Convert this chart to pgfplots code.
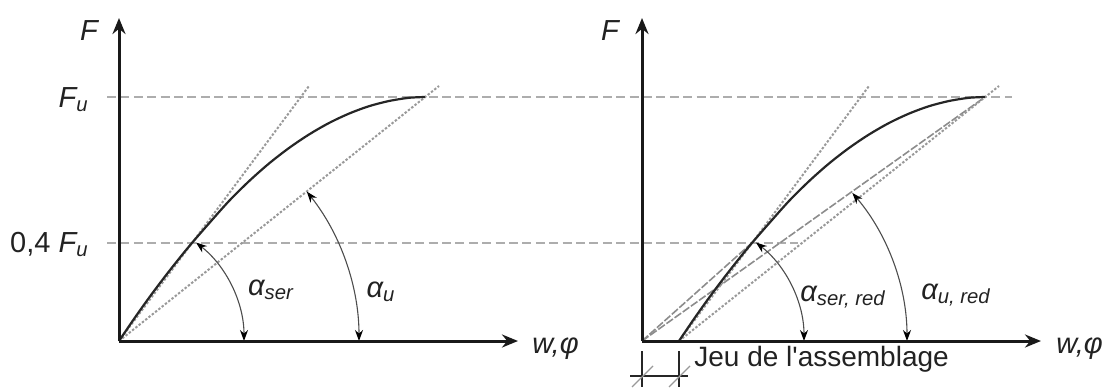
\documentclass[border=0pt]{standalone}
\usepackage{fontspec}
\setmainfont{Liberation Sans}
\usepackage{pgfplots}
\pgfplotsset{compat=1.18}
\usetikzlibrary{arrows.meta}

\definecolor{refline}{HTML}{ADADAD}
\definecolor{dotline}{HTML}{999999}
\definecolor{dashline}{HTML}{8C8C8C}
\definecolor{arcline}{HTML}{4D4D4D}
\definecolor{txt}{HTML}{222222}

\pgfplotstableread{
x y
0 0
15 22.1
30 43.2
45 63.2
60 82.3
73 98.1
90 117.6
110 140
130 159.8
150 177.5
170 193
190 206.5
210 218
230 227.4
250 234.8
270 240
290 243.2
306 244
}\leftcurve

\pgfplotstableread{
x y
37 0
52 22.1
67 43.2
82 63.2
97 82.3
110 98.1
127 117.6
147 140
167 159.8
187 177.5
207 193
227 206.5
247 218
267 227.4
287 234.8
307 240
327 243.2
343 244
}\rightcurve

\pgfplotsset{
  panel/.style={
    x=0.5pt, y=0.5pt,
    xmin=0, xmax=399, ymin=0, ymax=323,
    axis lines=left,
    axis line style={line width=1.5pt, draw=black!90, -{Stealth[length=8pt,width=6.5pt]}},
    xtick=\empty, ytick=\empty,
    clip=false,
    axis on top,
    anchor=south west,
  },
}
\tikzset{
  lbl/.style={font=\fontsize{14.5}{16}\selectfont\itshape, text=txt, inner sep=0pt},
  arcarrow/.style={draw=arcline, line width=0.55pt, {Stealth[length=5.5pt,width=4pt,black]}-{Stealth[length=5.5pt,width=4pt,black]}},
  dotsty/.style={dotline, line width=1pt, dash pattern=on 1.2pt off 0.9pt},
  refsty/.style={refline, line width=1.4pt, dash pattern=on 4.5pt off 2.2pt},
}

\begin{document}
\begin{tikzpicture}
\useasboundingbox (-59.5pt,-23pt) rectangle (491.5pt,170.5pt);

% ---------- left panel ----------
\begin{axis}[panel, at={(0pt,0pt)}]
  % horizontal reference lines (run across both panels)
  \addplot[refsty] coordinates {(-12,244) (893,244)};
  \addplot[refsty] coordinates {(-12,98) (679,98)};
  % secant lines
  \addplot[dotsty] coordinates {(0,0) (190,255)};
  \addplot[dotsty] coordinates {(0,0) (320,255)};
  % curve
  \addplot[black!85, line width=1.1pt, smooth] table {\leftcurve};
  % angles
  \draw[arcarrow] (axis cs:125,0) arc[start angle=0, end angle=52, radius=62.5pt];
  \draw[arcarrow] (axis cs:240,0) arc[start angle=0, end angle=38.5, radius=120pt];
  \node[lbl, anchor=center] at (axis cs:152,51) {α\textsubscript{ser}};
  \node[lbl, anchor=center] at (axis cs:262,49) {α\textsubscript{u}};
  % labels
  \node[lbl, anchor=base] at (axis cs:-30,301) {F};
  \node[lbl, anchor=base east] at (axis cs:-30,234) {F\textsubscript{u}};
  \node[lbl, anchor=base east] at (axis cs:-30,89) {\upshape 0,4 \itshape F\textsubscript{u}};
  \node[lbl, anchor=base west] at (axis cs:413,-12) {w,φ};
\end{axis}

% ---------- right panel ----------
\begin{axis}[panel, at={(261.5pt,0pt)}]
  % lines from the origin
  \addplot[dashline, line width=0.8pt, dash pattern=on 4pt off 1pt] coordinates {(0,0) (112,100)};
  \addplot[dashline, line width=0.8pt, dash pattern=on 4pt off 1pt] coordinates {(0,0) (343,244)};
  % lines from the shifted start
  \addplot[dotsty] coordinates {(37,0) (227,255)};
  \addplot[dotsty] coordinates {(37,0) (357,255)};
  % curve
  \addplot[black!85, line width=1.1pt, smooth] table {\rightcurve};
  % angles
  \draw[arcarrow] (axis cs:162,0) arc[start angle=0, end angle=52, radius=62.5pt];
  \draw[arcarrow] (axis cs:265,0) arc[start angle=0, end angle=40.5, radius=114pt];
  \node[lbl, anchor=center] at (axis cs:201,44) {α\textsubscript{ser, red}};
  \node[lbl, anchor=center] at (axis cs:314,46) {α\textsubscript{u, red}};
  % labels
  \node[lbl, anchor=base] at (axis cs:-32,301) {F};
  \node[lbl, anchor=base west] at (axis cs:414,-12) {w,φ};
  \node[lbl, anchor=base west, font=\fontsize{14}{16}\selectfont] at (axis cs:52,-25) {Jeu de l\textquotesingle assemblage};
  % play dimension
  \draw[black!85, line width=0.6pt] (axis cs:0,-10) -- (axis cs:0,-46);
  \draw[black!85, line width=0.6pt] (axis cs:37,-10) -- (axis cs:37,-46);
  \draw[black!85, line width=0.6pt] (axis cs:-12,-35) -- (axis cs:46,-35);
  \draw[dotline, line width=0.6pt] (axis cs:-10,-46) -- (axis cs:11,-25);
  \draw[dotline, line width=0.6pt] (axis cs:27,-46) -- (axis cs:48,-25);
\end{axis}
\end{tikzpicture}
\end{document}
